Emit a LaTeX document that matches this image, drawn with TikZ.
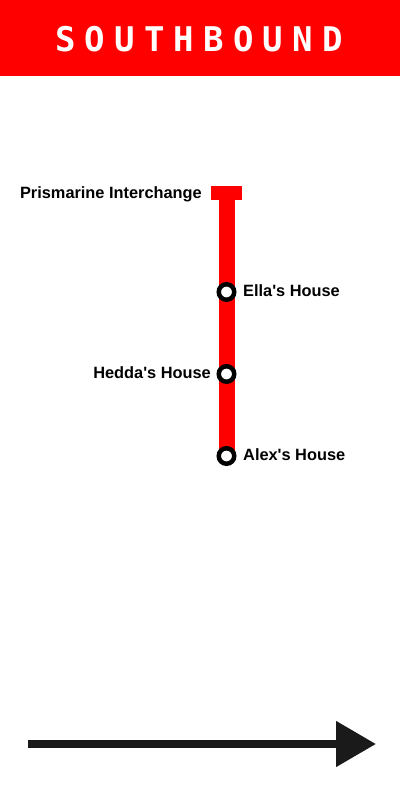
\documentclass[tikz,border=0pt]{standalone}
\usepackage{fontspec}
\setmainfont{Liberation Sans}
\newfontfamily\headfont[LetterSpace=27]{DejaVu Sans Mono Bold}
\usetikzlibrary{arrows.meta,backgrounds,positioning}
\definecolor{linered}{RGB}{255,0,0}
\definecolor{arrowblack}{RGB}{26,26,26}
\tikzset{
	stop/.style={circle,draw=black,fill=white,line width=4.5pt,inner sep=0pt,minimum size=15.5pt},
	stoplabel/.style={font=\bfseries\fontsize{16.35}{16.35}\selectfont,text=black,inner sep=0pt},
	terminus/.style={rectangle,fill=linered,inner sep=0pt,minimum width=31pt,minimum height=14pt},
}
\begin{document}
\begin{tikzpicture}[x=1pt,y=-1pt]
			\useasboundingbox (0,0) rectangle (400,800);
			\fill [linered] (0,0) rectangle (400,76);
			\node [text=white,inner sep=0pt,font=\headfont\fontsize{34}{34}\selectfont] (title) at (199,39.5) {SOUTHBOUND};
			\node [terminus] (prismarine) at (226.5,192.5) {};
			\node [stop] (ella) at (226.5,292) {};
			\node [stop] (hedda) at (226.5,374) {};
			\node [stop] (alex) at (226.5,456) {};
			\begin{scope}[on background layer]
				\fill [white] (0,0) rectangle (400,800);
				\draw [linered,line width=16pt] (prismarine.center) -- (alex.center);
			\end{scope}
			\node [stoplabel,anchor=east] (prismarinelabel) at (202,194) {Prismarine Interchange};
			\node [stoplabel,anchor=west] (ellalabel) at (243,291) {Ella\textquotesingle s House};
			\node [stoplabel,anchor=east] (heddalabel) at (211,373) {Hedda\textquotesingle s House};
			\node [stoplabel,anchor=west] (alexlabel) at (243,455) {Alex\textquotesingle s House};
			\coordinate (arrowstart) at (28,744);
			\coordinate (arrowend) at (376,744);
			\draw [arrowblack,line width=8pt,-{Triangle[length=40pt,width=44pt]}] (arrowstart) -- (arrowend);
		\end{tikzpicture}
\end{document}
